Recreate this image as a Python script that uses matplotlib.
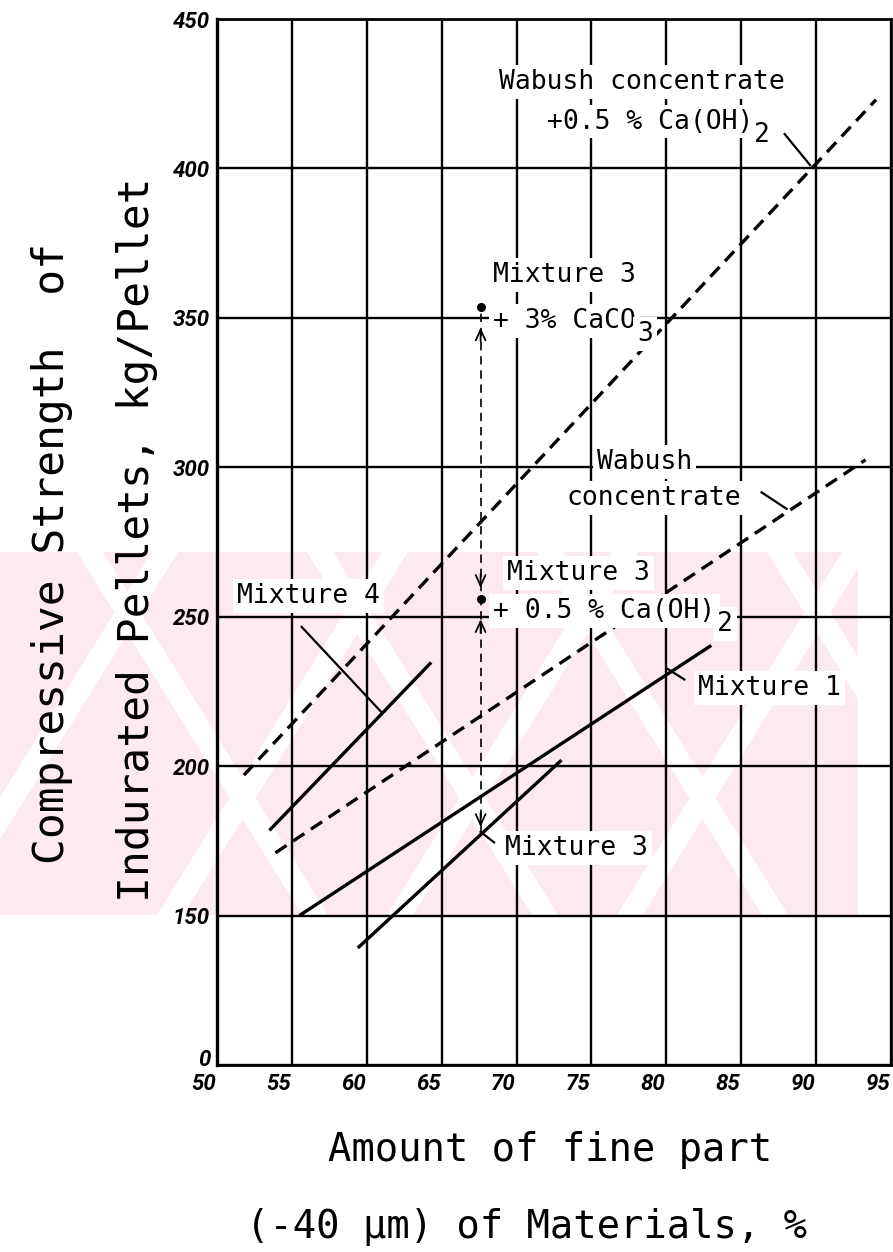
import matplotlib.pyplot as plt
import matplotlib.transforms as mtransforms
import numpy as np
from matplotlib.patches import Polygon, Rectangle

W, H = 893, 1252
MONO = 'DejaVu Sans Mono'

# fine part (-40 um) of the material, %  ->  compressive strength, kg/pellet
wabush_caoh_x = [51.8, 94.0]
wabush_caoh_y = [197.0, 423.0]
wabush_x = [53.9, 93.3]
wabush_y = [171.0, 302.5]
mix4_x = [53.5, 64.3]
mix4_y = [178.5, 234.7]
mix1_x = [55.5, 83.0]
mix1_y = [150.0, 240.4]
mix3_x = [59.4, 73.0]
mix3_y = [117.5, 202.0]

# Mixture 3 with additives, all at the same fineness
add_x = 67.6
add_base = 178.0     # plain Mixture 3
add_caoh = 255.9     # + 0.5 % Ca(OH)2
add_caco3 = 353.6    # + 3 % CaCO3

x_ticks = [50, 55, 60, 65, 70, 75, 80, 85, 90, 95]
y_ticks = [0, 150, 200, 250, 300, 350, 400, 450]


# the strength axis is squeezed below 150
def fwd(y):
    y = np.asarray(y, dtype=float)
    return np.where(y >= 150, y, 100 + y / 3)


def inv(v):
    v = np.asarray(v, dtype=float)
    return np.where(v >= 150, v, (v - 100) * 3)


fig = plt.figure(figsize=(W / 100, H / 100), dpi=100)

# faint pink stamp behind the plot
bg = fig.add_axes([0, 0, 1, 1], zorder=-1)
bg.set_xlim(0, W)
bg.set_ylim(H, 0)
bg.axis('off')
top, bot, right = 552, 915, 858
box = Rectangle((0, top), right, bot - top, fc='#fdeaee', ec='none')
bg.add_patch(box)
run, half = 225, 13
for x0 in [-60, 170, 400, 630]:
    p = Polygon([(x0 - half, bot), (x0 + half, bot), (x0 + half + run, top), (x0 - half + run, top)],
                fc='white', ec='none')
    bg.add_patch(p)
    p.set_clip_path(box)
for x0 in [90, 320, 550, 780]:
    p = Polygon([(x0 - half, top), (x0 + half, top), (x0 + half + run, bot), (x0 - half + run, bot)],
                fc='white', ec='none')
    bg.add_patch(p)
    p.set_clip_path(box)

ax = fig.add_axes([217 / W, 1 - 1065 / H, 674 / W, 1046 / H])
ax.patch.set_visible(False)
ax.set_yscale('function', functions=(fwd, inv))
ax.set_xlim(50, 95)
ax.set_ylim(0, 450)
ax.set_xticks(x_ticks)
ax.set_yticks(y_ticks)
ax.set_xticklabels([str(v) for v in x_ticks])
ax.set_yticklabels([str(v) for v in y_ticks])
ax.set_axisbelow(True)
ax.grid(True, color='black', lw=1.7)
ax.tick_params(length=0, labelsize=16)
ax.tick_params(axis='x', pad=6)
ax.tick_params(axis='y', pad=5)

# italic labels lean right, so pull the x labels left of their grid lines
shift = mtransforms.ScaledTranslation(-13 / 100, 0, fig.dpi_scale_trans)
for lbl in ax.get_xticklabels():
    lbl.set_transform(lbl.get_transform() + shift)
lift = mtransforms.ScaledTranslation(0, 8 / 100, fig.dpi_scale_trans)
zero = ax.get_yticklabels()[0]
zero.set_transform(zero.get_transform() + lift)
for lbl in ax.get_xticklabels() + ax.get_yticklabels():
    lbl.set_family(['Roboto', 'DejaVu Sans'])
    lbl.set_fontstyle('italic')
    lbl.set_fontweight('bold')
for s in ax.spines.values():
    s.set_linewidth(2.0)
ax.spines['left'].set_linewidth(2.4)

dash = dict(color='black', lw=2.4, dashes=(4, 2.4))
solid = dict(color='black', lw=2.4, solid_capstyle='butt')
ax.plot(wabush_caoh_x, wabush_caoh_y, **dash, zorder=2)
ax.plot(wabush_x, wabush_y, **dash, zorder=2)
ax.plot(mix4_x, mix4_y, **solid, zorder=2)
ax.plot(mix1_x, mix1_y, **solid, zorder=2)
ax.plot(mix3_x, mix3_y, **solid, zorder=2)

# additive effect on Mixture 3
ax.plot([add_x, add_x], [add_base, add_caco3], color='black', lw=1.2, dashes=(5, 3.5), zorder=2)
ax.plot([add_x, add_x], [add_caoh, add_caco3], 'o', color='black', ms=5.5, zorder=3)
head = dict(arrowstyle='->,head_width=0.25,head_length=0.55', color='black', lw=1.3, mutation_scale=14)
for tip, off in [(347.7, -14), (258.7, 14), (250.1, -14), (add_base + 0.7, 14)]:
    ax.annotate('', xy=(add_x, tip), xytext=(0, off), textcoords='offset points',
                arrowprops=head, zorder=3)

pointers = [
    ([87.9, 89.6], [411.5, 401.1]),
    ([86.36, 88.03], [291.6, 286.1]),
    ([55.65, 60.99], [246.6, 218.0]),
    ([80.1, 81.2], [232.5, 229.0]),
    ([67.6, 68.5], [178.0, 174.5]),
]
for px, py in pointers:
    ax.plot(px, py, color='black', lw=1.6, zorder=2)

box_white = dict(boxstyle='square,pad=0.15', fc='white', ec='none')


def label(x, y, s, ha='left', sub=None):
    t = ax.text(x, y, s, fontsize=19, family=MONO, ha=ha, va='center', zorder=4, bbox=box_white)
    if sub:
        ax.annotate(sub, xy=(1, 0), xycoords=t, xytext=(1, 0), textcoords='offset points',
                    ha='left', va='center', fontsize=19, family=MONO, zorder=4, bbox=box_white)
    return t


label(78.35, 429.0, 'Wabush concentrate', ha='center')
label(72.0, 415.7, '+0.5 % Ca(OH)', sub='2')
label(68.42, 364.4, 'Mixture 3')
label(68.42, 349.0, '+ 3% CaCO', sub='3')
label(69.34, 264.6, 'Mixture 3')
label(68.45, 251.8, '+ 0.5 % Ca(OH)', sub='2')
label(78.57, 301.9, 'Wabush', ha='center')
label(79.17, 289.8, 'concentrate', ha='center')
label(56.1, 256.8, 'Mixture 4', ha='center')
label(86.9, 226.3, 'Mixture 1', ha='center')
label(74.0, 172.7, 'Mixture 3', ha='center')

fig.text(550 / W, 1 - 1150 / H, 'Amount of fine part', family=MONO, fontsize=28,
         ha='center', va='center')
fig.text(527 / W, 1 - 1227 / H, '(-40 µm) of Materials, %', family=MONO, fontsize=28,
         ha='center', va='center')
fig.text(52 / W, 1 - 554 / H, 'Compressive Strength  of', family=MONO, fontsize=31,
         rotation=90, ha='center', va='center')
fig.text(137 / W, 1 - 540 / H, 'Indurated Pellets, kg/Pellet', family=MONO, fontsize=31,
         rotation=90, ha='center', va='center')

fig.savefig('out.png', dpi=100)
